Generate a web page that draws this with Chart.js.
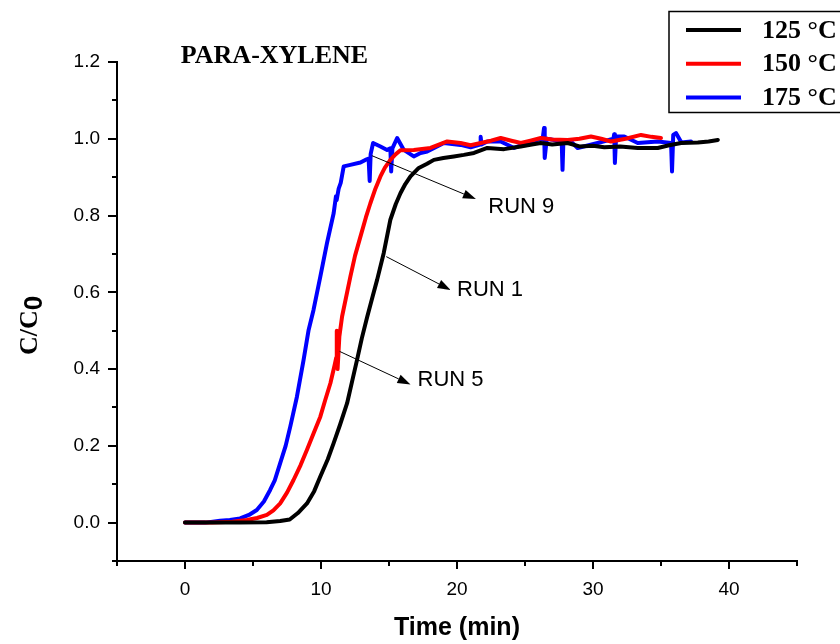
<!DOCTYPE html>
<html>
<head>
<meta charset="utf-8">
<script src="https://cdn.jsdelivr.net/npm/chart.js@4.4.0/dist/chart.umd.min.js"></script>
<style>
  html, body { margin: 0; padding: 0; background: #fff; }
</style>
</head>
<body>
<canvas id="chart" width="840" height="644"></canvas>
<script>
// series labels / colours
const tempLabels = ['125 °C', '150 °C', '175 °C'];
const lineColors = ['#000000', '#ff0000', '#0000ff'];

// 125 °C
const time125 = [0, 2, 4, 6, 7, 7.7, 8.3, 8.97, 9.5, 9.95, 10.5, 10.93, 11.4, 11.92, 12.3, 12.65, 13.0, 13.39, 13.8, 14.13, 14.61, 15.1, 15.5, 15.84, 16.2, 16.58, 17.19, 17.8, 18.3, 19.0, 19.77, 20.5, 21.25, 22.23, 23.46, 24.69, 25.5, 26.16, 27.0, 28.13, 29.0, 30.0, 30.83, 32.0, 33.29, 34.76, 35.6, 36.48, 37.71, 38.5, 39.18];
const conc125 = [0, 0, 0, 0.001, 0.004, 0.008, 0.025, 0.05, 0.082, 0.12, 0.165, 0.207, 0.255, 0.311, 0.37, 0.424, 0.48, 0.535, 0.59, 0.633, 0.702, 0.789, 0.83, 0.858, 0.882, 0.902, 0.924, 0.935, 0.945, 0.95, 0.954, 0.958, 0.963, 0.976, 0.973, 0.98, 0.985, 0.989, 0.985, 0.989, 0.98, 0.982, 0.978, 0.98, 0.976, 0.976, 0.983, 0.989, 0.99, 0.993, 0.997];

// 150 °C
const time150 = [0, 2, 3.5, 4.55, 5.3, 6.02, 6.5, 7.0, 7.5, 7.98, 8.5, 8.97, 9.45, 9.95, 10.3, 10.69, 11.0, 11.12, 11.16, 11.22, 11.35, 11.55, 12.16, 12.5, 12.9, 13.3, 13.63, 14.0, 14.37, 14.7, 15.1, 15.5, 15.84, 16.82, 18.05, 19.28, 20.26, 21.0, 21.74, 22.5, 23.21, 24.0, 24.69, 25.4, 26.16, 27.0, 28.13, 29.0, 29.85, 30.6, 31.32, 32.4, 33.53, 34.3, 35.0];
const conc150 = [0, 0, 0.002, 0.007, 0.012, 0.02, 0.032, 0.05, 0.078, 0.111, 0.15, 0.19, 0.232, 0.276, 0.318, 0.363, 0.41, 0.43, 0.5, 0.4, 0.485, 0.537, 0.641, 0.695, 0.745, 0.795, 0.832, 0.87, 0.902, 0.925, 0.945, 0.96, 0.97, 0.971, 0.976, 0.993, 0.989, 0.983, 0.989, 0.995, 1.002, 0.995, 0.989, 0.995, 1.002, 0.998, 0.997, 1.0, 1.006, 1.0, 0.993, 1.0, 1.01, 1.005, 1.002];

// 175 °C
const time175 = [0, 1.5, 2.58, 3.3, 4.05, 4.7, 5.28, 5.8, 6.26, 6.6, 7.0, 7.4, 7.74, 8.23, 8.72, 9.09, 9.45, 9.95, 10.44, 10.93, 11.1, 11.15, 11.3, 11.45, 11.67, 12.16, 12.9, 13.26, 13.5, 13.58, 13.65, 13.83, 14.37, 14.86, 15.1, 15.16, 15.25, 15.6, 16.09, 16.82, 17.32, 17.81, 19.04, 20.26, 21.0, 21.7, 21.74, 21.8, 22.23, 23.21, 24.2, 25.18, 25.92, 26.3, 26.4, 26.45, 26.6, 27.14, 27.7, 27.76, 27.82, 28.13, 28.37, 28.87, 30.34, 31.5, 31.56, 31.61, 31.7, 32.3, 33.29, 34.76, 35.74, 35.81, 35.9, 36.1, 36.5, 37.21];
const conc175 = [0, 0, 0.005, 0.007, 0.011, 0.02, 0.033, 0.055, 0.085, 0.11, 0.155, 0.2, 0.25, 0.328, 0.424, 0.502, 0.554, 0.641, 0.728, 0.806, 0.85, 0.84, 0.87, 0.885, 0.928, 0.932, 0.938, 0.945, 0.948, 0.89, 0.96, 0.989, 0.98, 0.971, 0.975, 0.915, 0.975, 1.002, 0.971, 0.954, 0.963, 0.967, 0.989, 0.984, 0.978, 0.985, 1.005, 0.985, 0.993, 0.993, 0.976, 0.989, 0.997, 1.0, 1.028, 0.95, 1.0, 0.997, 0.99, 0.919, 0.99, 0.997, 0.993, 0.976, 0.989, 1.0, 1.012, 0.937, 1.006, 1.006, 0.989, 0.993, 0.989, 0.915, 1.01, 1.015, 0.99, 0.993];

// axis ticks
const xTicks = [-5, 0, 5, 10, 15, 20, 25, 30, 35, 40, 45];
const yTicks = [-0.1, 0.0, 0.1, 0.2, 0.3, 0.4, 0.5, 0.6, 0.7, 0.8, 0.9, 1.0, 1.1, 1.2];
const xLabelTicks = [0, 10, 20, 30, 40];
const yLabelTicks = [0.0, 0.2, 0.4, 0.6, 0.8, 1.0, 1.2];

// run annotations: arrow from (x0,y0) to (x1,y1), label at (lx,ly)
const runLabels = ['RUN 9', 'RUN 1', 'RUN 5'];
const runArrowFrom = [[13.74, 0.956], [14.8, 0.693], [11.37, 0.446]];
const runArrowTo = [[21.39, 0.843], [19.53, 0.606], [16.58, 0.36]];
const runLabelAt = [[22.3, 0.822], [20.0, 0.606], [17.1, 0.372]];

const toPoints = (xs, ys) => xs.map((x, i) => ({ x: x, y: ys[i] }));
const seriesData = [toPoints(time125, conc125), toPoints(time150, conc150), toPoints(time175, conc175)];

const isIn = (v, arr) => arr.some((a) => Math.abs(a - v) < 1e-6);

const serif = '"Liberation Serif", "Times New Roman", serif';
const sans = '"Liberation Sans", Arial, sans-serif';

const decorPlugin = {
  id: 'decor',
  afterDraw: (chart) => {
    const ctx = chart.ctx;
    const xs = chart.scales.x;
    const ys = chart.scales.y;
    const area = chart.chartArea;

    ctx.save();
    ctx.strokeStyle = '#000';
    ctx.lineWidth = 2;
    // x ticks (outward)
    xTicks.forEach((v) => {
      const px = Math.round(xs.getPixelForValue(v));
      const len = isIn(v, xLabelTicks) ? 8 : 5;
      ctx.beginPath();
      ctx.moveTo(px, area.bottom);
      ctx.lineTo(px, area.bottom + len);
      ctx.stroke();
    });
    // y ticks (outward)
    yTicks.forEach((v) => {
      const py = Math.round(ys.getPixelForValue(v));
      const len = isIn(v, yLabelTicks) ? 9 : 5;
      ctx.beginPath();
      ctx.moveTo(area.left, py);
      ctx.lineTo(area.left - len, py);
      ctx.stroke();
    });

    // run arrows
    ctx.lineWidth = 1;
    ctx.fillStyle = '#000';
    runLabels.forEach((label, i) => {
      const x0 = xs.getPixelForValue(runArrowFrom[i][0]);
      const y0 = ys.getPixelForValue(runArrowFrom[i][1]);
      const x1 = xs.getPixelForValue(runArrowTo[i][0]);
      const y1 = ys.getPixelForValue(runArrowTo[i][1]);
      const ang = Math.atan2(y1 - y0, x1 - x0);
      const headLen = 13;
      const headW = 4.5;
      const bx = x1 - headLen * Math.cos(ang);
      const by = y1 - headLen * Math.sin(ang);
      ctx.beginPath();
      ctx.moveTo(x0, y0);
      ctx.lineTo(bx, by);
      ctx.stroke();
      ctx.beginPath();
      ctx.moveTo(x1, y1);
      ctx.lineTo(bx + headW * Math.sin(ang), by - headW * Math.cos(ang));
      ctx.lineTo(bx - headW * Math.sin(ang), by + headW * Math.cos(ang));
      ctx.closePath();
      ctx.fill();

      ctx.font = '22px ' + sans;
      ctx.textAlign = 'left';
      ctx.textBaseline = 'middle';
      ctx.fillText(label, xs.getPixelForValue(runLabelAt[i][0]), ys.getPixelForValue(runLabelAt[i][1]));
    });

    // title
    ctx.font = 'bold 26px ' + serif;
    ctx.textAlign = 'center';
    ctx.textBaseline = 'middle';
    ctx.fillText('PARA-XYLENE', 274.5, 56);

    // y axis title C/C0
    ctx.save();
    ctx.translate(37, 325.5);
    ctx.rotate(-Math.PI / 2);
    ctx.textAlign = 'left';
    ctx.textBaseline = 'alphabetic';
    ctx.font = 'bold 26px ' + serif;
    const w1 = ctx.measureText('C/C').width;
    ctx.font = 'bold 26px ' + sans;
    const w2 = ctx.measureText('0').width;
    const start = -(w1 + w2) / 2;
    ctx.font = 'bold 26px ' + serif;
    ctx.fillText('C/C', start, 0);
    ctx.font = 'bold 26px ' + sans;
    ctx.fillText('0', start + w1, 5);
    ctx.restore();

    // legend box
    ctx.lineWidth = 1.5;
    ctx.strokeRect(669, 11.5, 200, 101);
    tempLabels.forEach((label, i) => {
      const ly = 30 + i * 33.7;
      ctx.strokeStyle = lineColors[i];
      ctx.lineWidth = 4;
      ctx.beginPath();
      ctx.moveTo(686, ly);
      ctx.lineTo(741, ly);
      ctx.stroke();
      ctx.fillStyle = '#000';
      ctx.font = 'bold 26px ' + serif;
      ctx.textAlign = 'left';
      ctx.textBaseline = 'middle';
      ctx.fillText(label, 762, ly + 1);
    });
    ctx.restore();
  },
};

new Chart(document.getElementById('chart'), {
  type: 'line',
  data: {
    datasets: seriesData.map((d, i) => ({
      label: tempLabels[i],
      data: d,
      borderColor: lineColors[i],
      backgroundColor: lineColors[i],
      borderWidth: 4,
      borderJoinStyle: 'round',
      borderCapStyle: 'round',
      pointRadius: 0,
      tension: 0,
      fill: false,
    })),
  },
  plugins: [decorPlugin],
  options: {
    responsive: false,
    animation: false,
    devicePixelRatio: 1,
    layout: { padding: { top: 62, right: 43, left: 0, bottom: 0 } },
    plugins: {
      legend: { display: false },
      tooltip: { enabled: false },
      title: { display: false },
    },
    scales: {
      x: {
        type: 'linear',
        min: -5,
        max: 45,
        afterBuildTicks: (scale) => {
          scale.ticks = xTicks.map((v) => ({ value: v }));
        },
        afterFit: (scale) => {
          scale.height = 83;
        },
        grid: { display: false, drawTicks: true, tickLength: 8 },
        border: { display: true, color: '#000', width: 2 },
        ticks: {
          color: '#000',
          padding: 9,
          maxRotation: 0,
          autoSkip: false,
          font: { family: sans, size: 19 },
          callback: (v) => (isIn(v, xLabelTicks) ? String(v) : ''),
        },
        title: {
          display: true,
          text: 'Time (min)',
          color: '#000',
          padding: { top: 0, bottom: 1 },
          font: { family: sans, size: 25, weight: 'bold' },
        },
      },
      y: {
        type: 'linear',
        min: -0.1,
        max: 1.2,
        afterBuildTicks: (scale) => {
          scale.ticks = yTicks.map((v) => ({ value: v }));
        },
        afterFit: (scale) => {
          scale.width = 117;
        },
        grid: { display: false, drawTicks: true, tickLength: 8 },
        border: { display: true, color: '#000', width: 2 },
        ticks: {
          color: '#000',
          padding: 9,
          autoSkip: false,
          font: { family: sans, size: 19 },
          callback: (v) => (isIn(v, yLabelTicks) ? v.toFixed(1) : ''),
        },
      },
    },
  },
});
</script>
</body>
</html>
